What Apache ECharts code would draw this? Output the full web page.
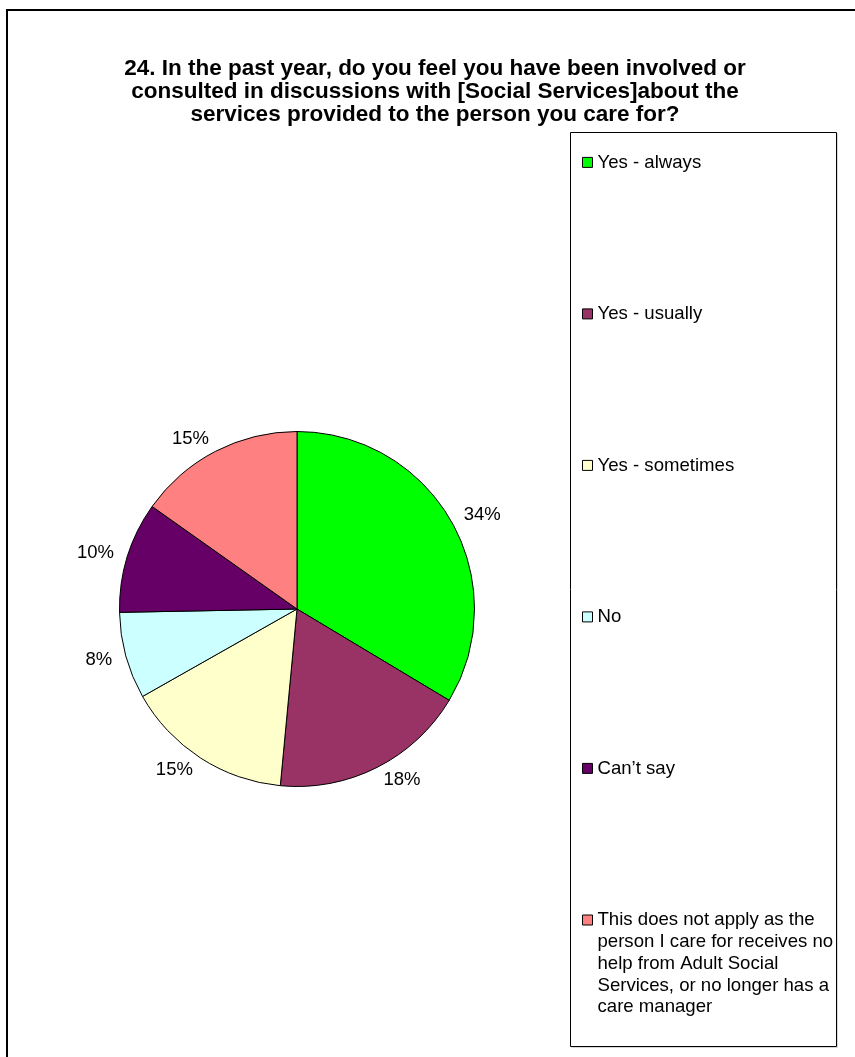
<!DOCTYPE html>
<html>
<head>
<meta charset="utf-8">
<script src="https://cdn.jsdelivr.net/npm/echarts@6/dist/echarts.min.js"></script>
<style>
html,body{margin:0;padding:0;background:#fff;}
#chart{width:855px;height:1057px;}
</style>
</head>
<body>
<div id="chart"></div>
<script>
var titleText = "24. In the past year, do you feel you have been involved or\nconsulted in discussions with [Social Services]about the\nservices provided to the person you care for?";
var categories = [
  "Yes - always",
  "Yes - usually",
  "Yes - sometimes",
  "No",
  "Can\u2019t say",
  "This does not apply as the person I care for receives no help from Adult Social Services, or no longer has a care manager"
];
var legendLines = [
  "This does not apply as the",
  "person I care for receives no",
  "help from Adult Social",
  "Services, or no longer has a",
  "care manager"
];
var values = [33.6, 17.9, 15.3, 7.9, 10.1, 15.2];
var colors = ["#00FF00", "#993366", "#FFFFCC", "#CCFFFF", "#660066", "#FF8080"];

var FONT = "Liberation Sans, Arial, sans-serif";
var chart = echarts.init(document.getElementById('chart'), null, {renderer: 'canvas'});

var seriesData = categories.map(function (c, i) {
  return {name: c, value: values[i], itemStyle: {color: colors[i]}};
});

var LH = 21.8;
var legendBase = {
  orient: 'vertical',
  left: 582,
  padding: 0,
  itemWidth: 10,
  itemHeight: 10,
  icon: 'rect',
  selectedMode: false,
  itemStyle: {borderColor: '#000', borderWidth: 1},
  textStyle: {fontFamily: FONT, fontSize: 18.6, color: '#000', lineHeight: LH}
};

var option = {
  backgroundColor: '#fff',
  animation: false,
  title: {
    text: titleText,
    left: 430,
    top: 52,
    textAlign: 'center',
    textStyle: {fontFamily: FONT, fontSize: 22.5, fontWeight: 'bold', color: '#000', lineHeight: 23}
  },
  graphic: [
    {type: 'rect', shape: {x: 7, y: 10, width: 900, height: 1100}, style: {fill: 'none', stroke: '#000', lineWidth: 2}, silent: true, z: -1},
    {type: 'rect', shape: {x: 571.5, y: 133.5, width: 266, height: 914}, style: {fill: 'none', stroke: '#d8d8d8', lineWidth: 1}, silent: true, z: -1},
    {type: 'rect', shape: {x: 570.5, y: 132.5, width: 266, height: 914}, style: {fill: '#fff', stroke: '#000', lineWidth: 1}, silent: true, z: 0}
  ],
  legend: [
    Object.assign({}, legendBase, {
      top: 151.5,
      itemGap: 151.5 - LH,
      data: categories.slice(0, 5)
    }),
    Object.assign({}, legendBase, {
      top: 920 - (legendLines.length - 1) * LH - LH / 2,
      data: categories.slice(5),
      formatter: function () {
        var pad = [];
        for (var i = 1; i < legendLines.length; i++) pad.push('');
        return pad.concat(legendLines).join('\n');
      }
    })
  ],
  series: [{
    type: 'pie',
    center: [297, 609],
    radius: 177.5,
    startAngle: 90,
    clockwise: true,
    avoidLabelOverlap: false,
    data: seriesData,
    itemStyle: {borderColor: '#000', borderWidth: 1},
    label: {
      show: true,
      position: 'outside',
      fontFamily: FONT,
      fontSize: 18.5,
      color: '#000',
      distanceToLabelLine: 0,
      formatter: function (p) { return Math.round(p.percent) + '%'; }
    },
    labelLine: {show: false, length: 14, length2: 0},
    emphasis: {disabled: true}
  }]
};
chart.setOption(option);
</script>
</body>
</html>
